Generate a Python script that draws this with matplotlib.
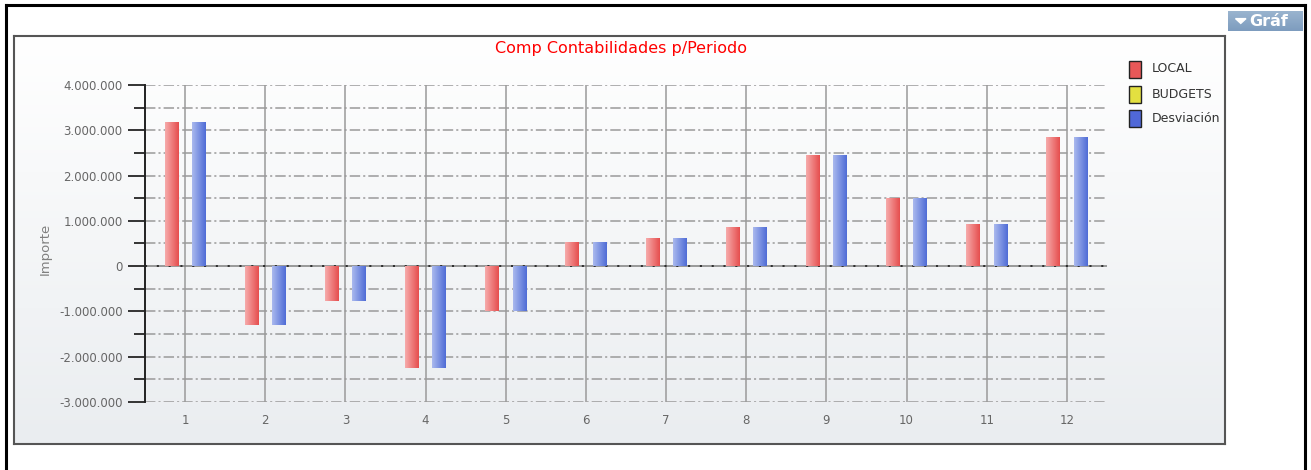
import matplotlib
matplotlib.use("Agg")
import matplotlib.pyplot as plt
import numpy as np
from matplotlib.patches import Rectangle, Polygon
from matplotlib.lines import Line2D
from matplotlib.ticker import FuncFormatter, MultipleLocator
import matplotlib.colors as mcolors

plt.rcParams['lines.scale_dashes'] = False
plt.rcParams['font.family'] = ['DejaVu Sans']

# ---------------- data ----------------
periods = ["1", "2", "3", "4", "5", "6", "7", "8", "9", "10", "11", "12"]
local = [3180000, -1290000, -760000, -2260000, -980000, 540000, 630000,
         875000, 2460000, 1510000, 930000, 2850000]
budgets = [0, 0, 0, 0, 0, 0, 0, 0, 0, 0, 0, 0]
desviacion = [3180000, -1290000, -760000, -2260000, -980000, 540000, 630000,
              875000, 2460000, 1510000, 930000, 2850000]
series_names = ["LOCAL", "BUDGETS", "Desviación"]
title = "Comp Contabilidades p/Periodo"
ylabel = "Importe"

W, H = 1311, 470
fig = plt.figure(figsize=(W / 100, H / 100), dpi=100)
fig.patch.set_facecolor("white")

def fx(px):
    return px / W

def fy(py):
    return 1 - py / H

# outer black frame (left, top, right)
fig.add_artist(Line2D([fx(6), fx(6)], [0, fy(5)], color="black", lw=2.2, transform=fig.transFigure))
fig.add_artist(Line2D([fx(6), fx(1305)], [fy(5), fy(5)], color="black", lw=2.2, transform=fig.transFigure))
fig.add_artist(Line2D([fx(1305), fx(1305)], [0, fy(5)], color="black", lw=2.2, transform=fig.transFigure))

# panel background with vertical gradient
bg = fig.add_axes([fx(14), fy(444), fx(1225) - fx(14), fy(36) - fy(444)])
grad = np.linspace(0, 1, 256).reshape(-1, 1)
cmap_bg = mcolors.LinearSegmentedColormap.from_list("bg", ["#ffffff", "#eaedf0"])
bg.imshow(grad, aspect="auto", cmap=cmap_bg, extent=[0, 1, 0, 1], origin="upper")
bg.set_xticks([]); bg.set_yticks([])
for s in bg.spines.values():
    s.set_color("#555555"); s.set_linewidth(1.5)
bg.set_zorder(0)

# "Gráf" button
btn = fig.add_axes([fx(1228), fy(31), fx(1303) - fx(1228), fy(11) - fy(31)])
cmap_btn = mcolors.LinearSegmentedColormap.from_list("btn", ["#9ab4cf", "#7d9cbe"])
btn.imshow(grad, aspect="auto", cmap=cmap_btn, extent=[0, 1, 0, 1], origin="upper")
btn.set_xlim(0, 1); btn.set_ylim(0, 1)
btn.set_xticks([]); btn.set_yticks([])
for s in btn.spines.values():
    s.set_visible(False)
btn.add_patch(Polygon([[0.10, 0.62], [0.24, 0.62], [0.17, 0.38]], closed=True, color="white"))
btn.text(0.28, 0.47, "Gráf", color="white", fontsize=11.5, fontweight="bold", va="center", ha="left")

# main axes
ax = fig.add_axes([fx(145), fy(402), fx(1107) - fx(145), fy(85) - fy(402)])
ax.set_zorder(2)
ax.patch.set_alpha(0)

x = np.arange(1, len(periods) + 1)
w = 0.17
colors = ["#e85858", "#e0e040", "#5570d8"]
grads = [("#f6abab", "#e64e4e"), ("#f0f080", "#d8d830"), ("#aab9ee", "#4f6cd6")]
offsets = [-0.17, 0.0, 0.17]
all_series = [local, budgets, desviacion]

containers = []
for vals, off, c in zip(all_series, offsets, colors):
    cont = ax.bar(x + off, vals, width=w, color=c, edgecolor="none", zorder=3)
    containers.append(cont)

hgrad = np.linspace(0, 1, 64).reshape(1, -1)
for cont, (c0, c1) in zip(containers, grads):
    cm = mcolors.LinearSegmentedColormap.from_list("g", [c0, c1])
    for bar in cont:
        bx, by = bar.get_x(), bar.get_y()
        bw, bh = bar.get_width(), bar.get_height()
        if bh == 0:
            continue
        y0, y1 = min(by, by + bh), max(by, by + bh)
        im = ax.imshow(hgrad, aspect="auto", cmap=cm, extent=[bx, bx + bw, y0, y1],
                       zorder=4, interpolation="bilinear")
        im.set_clip_path(bar)

ax.set_xlim(0.5, 12.5)
ax.set_ylim(-3000000, 4000000)

# grid
for v in np.arange(-3000000, 4000001, 500000):
    if v == 0:
        continue
    ax.axhline(v, color="#9a9a9a", lw=1.1, linestyle=(0, (7.5, 2.2, 1.5, 2.2)), zorder=1)
for xi in x:
    ax.axvline(xi, color="#9a9a9a", lw=1.1, zorder=1)
ax.axhline(0, color="#808080", lw=1.1, zorder=2)
ax.axhline(0, color="#111111", lw=1.1, linestyle=(0, (1.5, 7)), zorder=2)

ax.set_xticks(x)
ax.set_xticklabels(periods)
ax.yaxis.set_major_locator(MultipleLocator(1000000))
ax.yaxis.set_minor_locator(MultipleLocator(500000))

def fmt(v, pos):
    s = f"{abs(int(round(v))):,}".replace(",", ".")
    return ("-" if v < 0 else "") + s

ax.yaxis.set_major_formatter(FuncFormatter(fmt))
ax.tick_params(axis="y", which="major", length=12, width=1.4, color="#333333",
               labelcolor="#666666", labelsize=8.5, pad=4)
ax.tick_params(axis="y", which="minor", length=8, width=1.4, color="#333333")
ax.tick_params(axis="x", length=0, labelcolor="#666666", labelsize=8.5, pad=9)

for side in ["top", "right", "bottom"]:
    ax.spines[side].set_visible(False)
ax.spines["left"].set_color("#222222")
ax.spines["left"].set_linewidth(1.4)

fig.text(fx(45), fy(249), ylabel, rotation=90, color="#808080", fontsize=9.5,
         ha="center", va="center")

fig.text(fx(621), fy(48), title, color="#ff0000", fontsize=11.5, ha="center", va="center")

# legend
leg_y = [69, 94, 118]
leg_cols = ["#e85858", "#e3e040", "#5068d8"]
for name, yy, c in zip(series_names, leg_y, leg_cols):
    fig.add_artist(Rectangle((fx(1129), fy(yy + 8.5)), fx(12), 17 / H, facecolor=c,
                             edgecolor="#222222", lw=1.0, transform=fig.transFigure))
    fig.text(fx(1152), fy(yy), name, color="#333333", fontsize=9, ha="left", va="center")

fig.savefig("out.png", dpi=100)
